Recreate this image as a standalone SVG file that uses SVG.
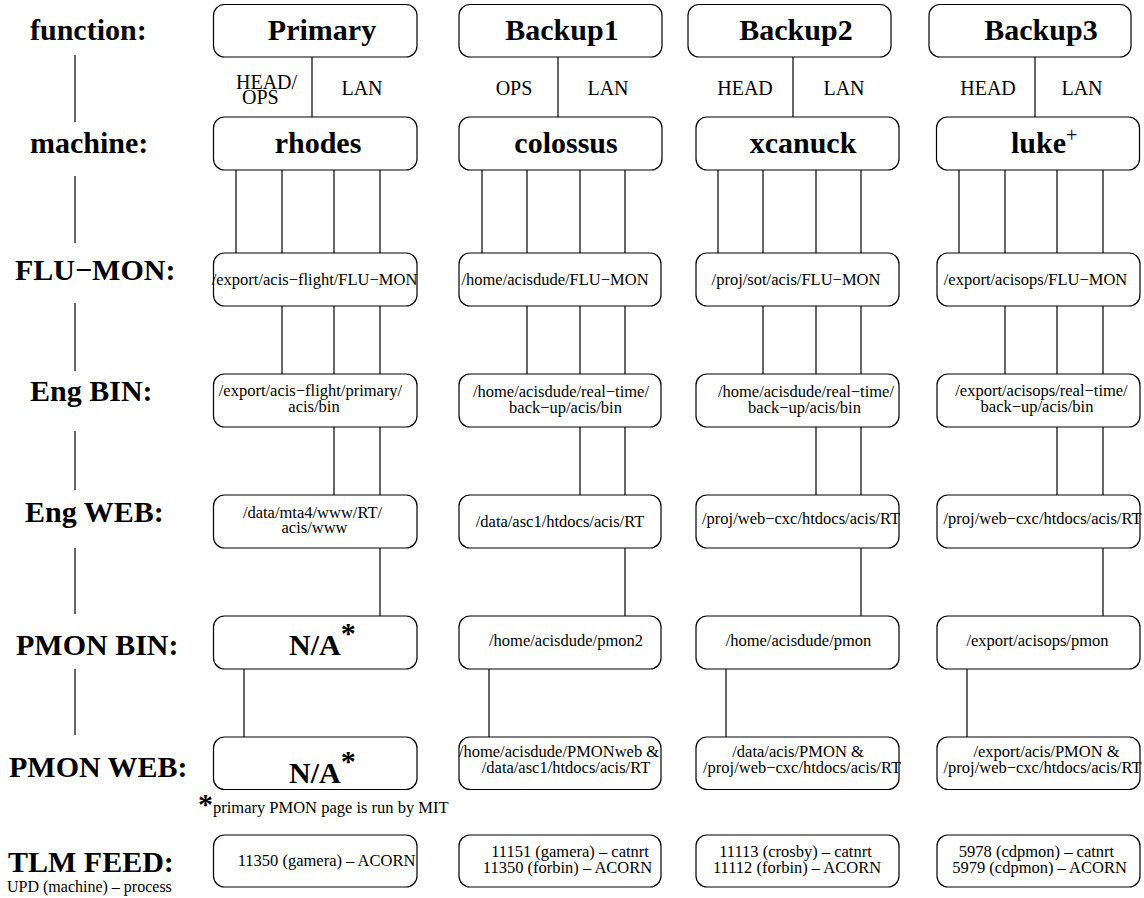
<svg xmlns="http://www.w3.org/2000/svg" width="1144" height="898" viewBox="0 0 1144 898">
<style>
.box{fill:#fff;stroke:#000;stroke-width:1.2}
.ln{stroke:#000;stroke-width:1.2;fill:none}
.lbl{font-family:"Liberation Serif",serif;font-weight:bold;font-size:30px;fill:#000}
.hd{font-family:"Liberation Serif",serif;font-weight:bold;font-size:30px;fill:#000;text-anchor:middle}
.t{font-family:"Liberation Serif",serif;font-size:16.5px;fill:#000;text-anchor:middle}
.s{font-family:"Liberation Serif",serif;font-size:20px;fill:#000;text-anchor:middle}
.n{font-family:"Liberation Serif",serif;font-size:16.5px;fill:#000}
</style>
<rect width="1144" height="898" fill="#fff"/>

<g id="row-labels">
<text class="lbl" x="30" y="40">function:</text>
<text class="lbl" x="30" y="153">machine:</text>
<text class="lbl" x="15" y="280">FLU−MON:</text>
<text class="lbl" x="30" y="401">Eng BIN:</text>
<text class="lbl" x="25" y="522">Eng WEB:</text>
<text class="lbl" x="16" y="655">PMON BIN:</text>
<text class="lbl" x="9" y="777">PMON WEB:</text>
<text class="lbl" x="8" y="872">TLM FEED:</text>
<text class="n" x="7" y="892" style="font-size:16px">UPD (machine) – process</text>
<g class="ln">
<line x1="75" y1="55" x2="75" y2="122"/>
<line x1="75" y1="176" x2="75" y2="243"/>
<line x1="75" y1="303" x2="75" y2="371"/>
<line x1="75" y1="431" x2="75" y2="490"/>
<line x1="75" y1="548" x2="75" y2="614"/>
<line x1="75" y1="669" x2="75" y2="735"/>
</g>
</g>

<g id="connectors" class="ln">
<line x1="312" y1="57" x2="312" y2="117"/>
<line x1="558" y1="57" x2="558" y2="117"/>
<line x1="793" y1="57" x2="793" y2="117"/>
<line x1="1035" y1="57" x2="1035" y2="117"/>
<line x1="236" y1="170" x2="236" y2="253"/>
<line x1="282" y1="170" x2="282" y2="253"/>
<line x1="334" y1="170" x2="334" y2="253"/>
<line x1="380" y1="170" x2="380" y2="253"/>
<line x1="482" y1="170" x2="482" y2="253"/>
<line x1="527" y1="170" x2="527" y2="253"/>
<line x1="580" y1="170" x2="580" y2="253"/>
<line x1="625" y1="170" x2="625" y2="253"/>
<line x1="718" y1="170" x2="718" y2="253"/>
<line x1="763" y1="170" x2="763" y2="253"/>
<line x1="816" y1="170" x2="816" y2="253"/>
<line x1="861" y1="170" x2="861" y2="253"/>
<line x1="959" y1="170" x2="959" y2="253"/>
<line x1="1005" y1="170" x2="1005" y2="253"/>
<line x1="1057" y1="170" x2="1057" y2="253"/>
<line x1="1103" y1="170" x2="1103" y2="253"/>
<line x1="282" y1="306" x2="282" y2="374"/>
<line x1="334" y1="306" x2="334" y2="374"/>
<line x1="380" y1="306" x2="380" y2="374"/>
<line x1="527" y1="306" x2="527" y2="374"/>
<line x1="580" y1="306" x2="580" y2="374"/>
<line x1="625" y1="306" x2="625" y2="374"/>
<line x1="763" y1="306" x2="763" y2="374"/>
<line x1="816" y1="306" x2="816" y2="374"/>
<line x1="861" y1="306" x2="861" y2="374"/>
<line x1="1005" y1="306" x2="1005" y2="374"/>
<line x1="1057" y1="306" x2="1057" y2="374"/>
<line x1="1103" y1="306" x2="1103" y2="374"/>
<line x1="334" y1="427" x2="334" y2="495"/>
<line x1="380" y1="427" x2="380" y2="495"/>
<line x1="580" y1="427" x2="580" y2="495"/>
<line x1="625" y1="427" x2="625" y2="495"/>
<line x1="816" y1="427" x2="816" y2="495"/>
<line x1="861" y1="427" x2="861" y2="495"/>
<line x1="1057" y1="427" x2="1057" y2="495"/>
<line x1="1103" y1="427" x2="1103" y2="495"/>
<line x1="380" y1="548" x2="380" y2="616"/>
<line x1="625" y1="548" x2="625" y2="616"/>
<line x1="861" y1="548" x2="861" y2="616"/>
<line x1="1103" y1="548" x2="1103" y2="616"/>
<line x1="244" y1="669" x2="244" y2="737"/>
<line x1="489" y1="669" x2="489" y2="737"/>
<line x1="726" y1="669" x2="726" y2="737"/>
<line x1="967" y1="669" x2="967" y2="737"/>
</g>

<g id="link-labels">
<text class="s" x="236" y="89" style="text-anchor:start">HEAD/</text>
<text class="s" x="242" y="104" style="text-anchor:start">OPS</text>
<text class="s" x="362" y="95">LAN</text>
<text class="s" x="514" y="95">OPS</text>
<text class="s" x="608" y="95">LAN</text>
<text class="s" x="745" y="95">HEAD</text>
<text class="s" x="844" y="95">LAN</text>
<text class="s" x="988" y="95">HEAD</text>
<text class="s" x="1082" y="95">LAN</text>
</g>

<g id="fn-primary"><rect class="box" x="213.5" y="4.5" width="203.5" height="52.5" rx="11"/><text class="hd" x="322" y="40">Primary</text></g>
<g id="fn-backup1"><rect class="box" x="459" y="4.5" width="203" height="52.5" rx="11"/><text class="hd" x="562" y="40">Backup1</text></g>
<g id="fn-backup2"><rect class="box" x="688" y="4.5" width="203" height="52.5" rx="11"/><text class="hd" x="796" y="40">Backup2</text></g>
<g id="fn-backup3"><rect class="box" x="929" y="4.5" width="202" height="52.5" rx="11"/><text class="hd" x="1041" y="40">Backup3</text></g>

<g id="m-rhodes"><rect class="box" x="213.5" y="117" width="203.5" height="53" rx="11"/><text class="hd" x="318" y="153">rhodes</text></g>
<g id="m-colossus"><rect class="box" x="459" y="117" width="203" height="53" rx="11"/><text class="hd" x="566" y="153">colossus</text></g>
<g id="m-xcanuck"><rect class="box" x="696" y="117" width="203" height="53" rx="11"/><text class="hd" x="803" y="153">xcanuck</text></g>
<g id="m-luke"><rect class="box" x="936.5" y="117" width="203" height="53" rx="11"/><text class="hd" x="1011" y="153" style="text-anchor:start">luke<tspan style="font-weight:normal;font-size:20px" dy="-11">+</tspan></text></g>

<g id="flu-primary"><rect class="box" x="213.5" y="253" width="203.5" height="53" rx="11"/><text class="t" x="314.5" y="285">/export/acis−flight/FLU−MON</text></g>
<g id="flu-backup1"><rect class="box" x="459" y="253" width="202" height="53" rx="11"/><text class="t" x="555" y="285">/home/acisdude/FLU−MON</text></g>
<g id="flu-backup2"><rect class="box" x="696" y="253" width="203" height="53" rx="11"/><text class="t" x="796" y="285">/proj/sot/acis/FLU−MON</text></g>
<g id="flu-backup3"><rect class="box" x="937" y="253" width="203" height="53" rx="11"/><text class="t" x="1035.5" y="285">/export/acisops/FLU−MON</text></g>

<g id="bin-primary"><rect class="box" x="213.5" y="374" width="203.5" height="53" rx="11"/><text class="t" x="310.5" y="396">/export/acis−flight/primary/</text><text class="t" x="314" y="412">acis/bin</text></g>
<g id="bin-backup1"><rect class="box" x="459" y="374" width="202" height="53" rx="11"/><text class="t" x="561" y="397">/home/acisdude/real−time/</text><text class="t" x="565.5" y="413">back−up/acis/bin</text></g>
<g id="bin-backup2"><rect class="box" x="696" y="374" width="203" height="53" rx="11"/><text class="t" x="806" y="397">/home/acisdude/real−time/</text><text class="t" x="804.5" y="413">back−up/acis/bin</text></g>
<g id="bin-backup3"><rect class="box" x="937" y="374" width="203" height="53" rx="11"/><text class="t" x="1041.5" y="396">/export/acisops/real−time/</text><text class="t" x="1037" y="412">back−up/acis/bin</text></g>

<g id="web-primary"><rect class="box" x="213.5" y="495" width="203.5" height="53" rx="11"/><text class="t" x="312.5" y="518">/data/mta4/www/RT/</text><text class="t" x="314.5" y="533">acis/www</text></g>
<g id="web-backup1"><rect class="box" x="459" y="495" width="202" height="53" rx="11"/><text class="t" x="560" y="527">/data/asc1/htdocs/acis/RT</text></g>
<g id="web-backup2"><rect class="box" x="696" y="495" width="203" height="53" rx="11"/><text class="t" x="801" y="524">/proj/web−cxc/htdocs/acis/RT</text></g>
<g id="web-backup3"><rect class="box" x="937" y="495" width="203" height="53" rx="11"/><text class="t" x="1042.5" y="524">/proj/web−cxc/htdocs/acis/RT</text></g>

<g id="pbin-primary"><rect class="box" x="213.5" y="616" width="203.5" height="53" rx="11"/><text class="hd" x="289" y="655" style="text-anchor:start">N/A<tspan dy="-12">*</tspan></text></g>
<g id="pbin-backup1"><rect class="box" x="459" y="616" width="202" height="53" rx="11"/><text class="t" x="566" y="646">/home/acisdude/pmon2</text></g>
<g id="pbin-backup2"><rect class="box" x="696" y="616" width="203" height="53" rx="11"/><text class="t" x="798.5" y="646">/home/acisdude/pmon</text></g>
<g id="pbin-backup3"><rect class="box" x="937" y="616" width="203" height="53" rx="11"/><text class="t" x="1037.5" y="646">/export/acisops/pmon</text></g>

<g id="pweb-primary"><rect class="box" x="213.5" y="737" width="203.5" height="52.5" rx="11"/><text class="hd" x="289" y="783" style="text-anchor:start">N/A<tspan dy="-12">*</tspan></text></g>
<g id="pweb-backup1"><rect class="box" x="459" y="737" width="202" height="52.5" rx="11"/><text class="t" x="559" y="757">/home/acisdude/PMONweb &amp;</text><text class="t" x="566" y="773">/data/asc1/htdocs/acis/RT</text></g>
<g id="pweb-backup2"><rect class="box" x="696" y="737" width="203" height="52.5" rx="11"/><text class="t" x="798" y="757">/data/acis/PMON &amp;</text><text class="t" x="802" y="773">/proj/web−cxc/htdocs/acis/RT</text></g>
<g id="pweb-backup3"><rect class="box" x="937" y="737" width="203" height="52.5" rx="11"/><text class="t" x="1046.5" y="757">/export/acis/PMON &amp;</text><text class="t" x="1042.5" y="773">/proj/web−cxc/htdocs/acis/RT</text></g>

<g id="footnote"><text class="lbl" x="198" y="814">*</text><text class="n" x="213" y="813">primary PMON page is run by MIT</text></g>

<g id="tlm-primary"><rect class="box" x="213.5" y="835" width="203.5" height="52" rx="11"/><text class="t" x="326.5" y="866">11350 (gamera) – ACORN</text></g>
<g id="tlm-backup1"><rect class="box" x="459" y="835" width="202" height="52" rx="11"/><text class="t" x="570" y="857">11151 (gamera) – catnrt</text><text class="t" x="567.5" y="873">11350 (forbin) – ACORN</text></g>
<g id="tlm-backup2"><rect class="box" x="696" y="835" width="203" height="52" rx="11"/><text class="t" x="795.5" y="857">11113 (crosby) – catnrt</text><text class="t" x="797" y="873">11112 (forbin) – ACORN</text></g>
<g id="tlm-backup3"><rect class="box" x="937" y="835" width="203" height="52" rx="11"/><text class="t" x="1036.5" y="857">5978 (cdpmon) – catnrt</text><text class="t" x="1039.5" y="873">5979 (cdpmon) – ACORN</text></g>
</svg>
